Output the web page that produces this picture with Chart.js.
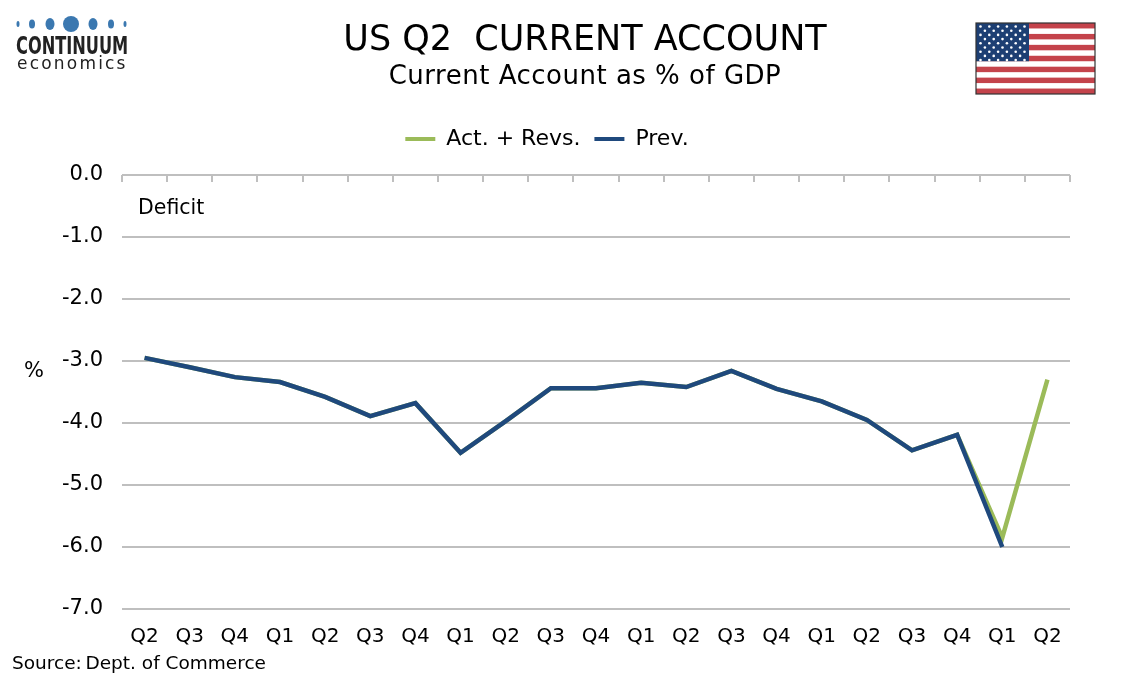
<!DOCTYPE html>
<html>
<head>
<meta charset="utf-8">
<script src="https://cdn.jsdelivr.net/npm/chart.js@4/dist/chart.umd.min.js"></script>
<style>
body{margin:0;background:#fff;font-family:"DejaVu Sans",Verdana,sans-serif;}
#wrap{position:absolute;left:0;top:0;width:1134px;height:680px;}
.t{position:absolute;white-space:nowrap;color:#000;}
</style>
</head>
<body>
<div id="wrap"><canvas id="c" width="1134" height="680"></canvas></div>

<!-- logo -->
<svg class="t" style="left:10px;top:12px" width="130" height="26">
<ellipse cx="8" cy="12" rx="1.5" ry="3" fill="#3b78b0"/>
<ellipse cx="22" cy="12" rx="3" ry="4.5" fill="#3b78b0"/>
<ellipse cx="40" cy="12" rx="4.5" ry="6" fill="#3b78b0"/>
<circle cx="61" cy="12" r="8" fill="#3b78b0"/>
<ellipse cx="83" cy="12" rx="4.5" ry="6" fill="#3b78b0"/>
<ellipse cx="101" cy="12" rx="3" ry="4.5" fill="#3b78b0"/>
<ellipse cx="115" cy="12" rx="1.5" ry="3" fill="#3b78b0"/>
</svg>
<div class="t" style="left:16px;top:32px;font:bold 24px 'DejaVu Sans Condensed','DejaVu Sans',sans-serif;color:#222;transform:scaleX(0.75);transform-origin:0 0">CONTINUUM</div>
<div class="t" style="left:17px;top:53px;font:17px 'DejaVu Sans',sans-serif;color:#222;letter-spacing:2.2px">economics</div>

<div class="t" style="left:0;width:1170px;top:18px;text-align:center;font-size:35px">US Q2&nbsp; CURRENT ACCOUNT</div>
<div class="t" style="left:0;width:1170px;top:60px;text-align:center;font-size:26px;letter-spacing:0.5px">Current Account as % of GDP</div>

<svg id="flag" class="t" style="left:975px;top:22px" width="121" height="73"></svg>

<div class="t" style="left:24px;top:358px;font-size:21px">%</div>
<div class="t" style="left:138px;top:195px;font-size:20.5px">Deficit</div>
<div class="t" style="left:12px;top:652px;font-size:18.5px">Source:&thinsp;Dept. of Commerce</div>

<script>
const quarters=["Q2","Q3","Q4","Q1","Q2","Q3","Q4","Q1","Q2","Q3","Q4","Q1","Q2","Q3","Q4","Q1","Q2","Q3","Q4","Q1","Q2"];
const actRevs=[-2.95,-3.10,-3.26,-3.34,-3.58,-3.89,-3.68,-4.48,-3.97,-3.44,-3.44,-3.35,-3.42,-3.16,-3.45,-3.65,-3.95,-4.44,-4.19,-5.85,-3.30];
const prev=[-2.95,-3.10,-3.26,-3.34,-3.58,-3.89,-3.68,-4.48,-3.97,-3.44,-3.44,-3.35,-3.42,-3.16,-3.45,-3.65,-3.95,-4.44,-4.19,-6.00,null];
const yTicks=[0,-1,-2,-3,-4,-5,-6,-7];

// flag
(function(){
const s=document.getElementById("flag");let h="";
const W=119,H=71,sh=H/13;
h+='<rect x="1" y="1" width="'+W+'" height="'+H+'" fill="#fff"/>';
for(let i=0;i<13;i+=2)h+='<rect x="1" y="'+(1+i*sh)+'" width="'+W+'" height="'+sh+'" fill="#c4434b"/>';
h+='<rect x="1" y="1" width="53" height="'+(7*sh)+'" fill="#1d3f73"/>';
for(let r=0;r<9;r++){const n=r%2?5:6;for(let c=0;c<n;c++){
h+='<circle cx="'+(1+4.5+(r%2?4.4:0)+c*8.8)+'" cy="'+(1+3.5+r*4.2)+'" r="1.3" fill="#fff"/>';}}
h+='<rect x="1" y="1" width="'+W+'" height="'+H+'" fill="none" stroke="#333" stroke-width="1.2"/>';
s.innerHTML=h;
})();

const topTicks={
id:"topTicks",
beforeDatasetsDraw(chart){
const x=chart.scales.x,y=chart.scales.y,ctx=chart.ctx;
const y0=y.getPixelForValue(0),n=quarters.length,w=(x.right-x.left)/n;
ctx.save();ctx.strokeStyle="#bfbfbf";ctx.lineWidth=2;
for(let i=0;i<=n;i++){const px=Math.round(x.left+i*w);
ctx.beginPath();ctx.moveTo(px,y0);ctx.lineTo(px,y0+7);ctx.stroke();}
ctx.restore();
}};

Chart.defaults.font.family="'DejaVu Sans',Verdana,sans-serif";
Chart.defaults.color="#000";

const ch=new Chart(document.getElementById("c"),{
type:"line",
data:{labels:quarters,datasets:[
{label:"Act. + Revs.",data:actRevs,borderColor:"#9bbb59",backgroundColor:"#9bbb59",borderWidth:4.5,pointRadius:0,tension:0,order:2},
{label:"Prev.",data:prev,borderColor:"#1f497d",backgroundColor:"#1f497d",borderWidth:4.5,pointRadius:0,tension:0,order:1}
]},
options:{
responsive:false,animation:false,
layout:{padding:{top:114,left:0,right:64,bottom:23}},
plugins:{
tooltip:{enabled:false},
legend:{position:"top",align:"center",
labels:{boxWidth:30,boxHeight:4,font:{size:22},padding:14,
generateLabels(chart){return chart.data.datasets.map((d,i)=>({text:d.label,strokeStyle:d.borderColor,fillStyle:d.borderColor,lineWidth:0,datasetIndex:i,fontColor:"#000"}));}}}
},
scales:{
x:{offset:true,grid:{display:false},border:{display:false},
ticks:{font:{size:20},padding:8,maxRotation:0,autoSkip:false}},
y:{min:-7,max:0,
afterFit(s){s.width=122;},
afterBuildTicks(s){s.ticks=yTicks.map(v=>({value:v}));},
grid:{color:"#bfbfbf",lineWidth:2,drawTicks:false},border:{display:false},
ticks:{font:{size:21},padding:19,callback:v=>v.toFixed(1)}}
}
},
plugins:[topTicks]
});
// extra space under the legend, and nudge it right like the original
const legFit=ch.legend.fit,legDraw=ch.legend.draw;
ch.legend.fit=function(){legFit.call(this);this.height+=15;};
ch.legend.draw=function(){const c=this.ctx;c.save();c.translate(12,0);legDraw.call(this);c.restore();};
ch.update();
</script>
</body>
</html>
